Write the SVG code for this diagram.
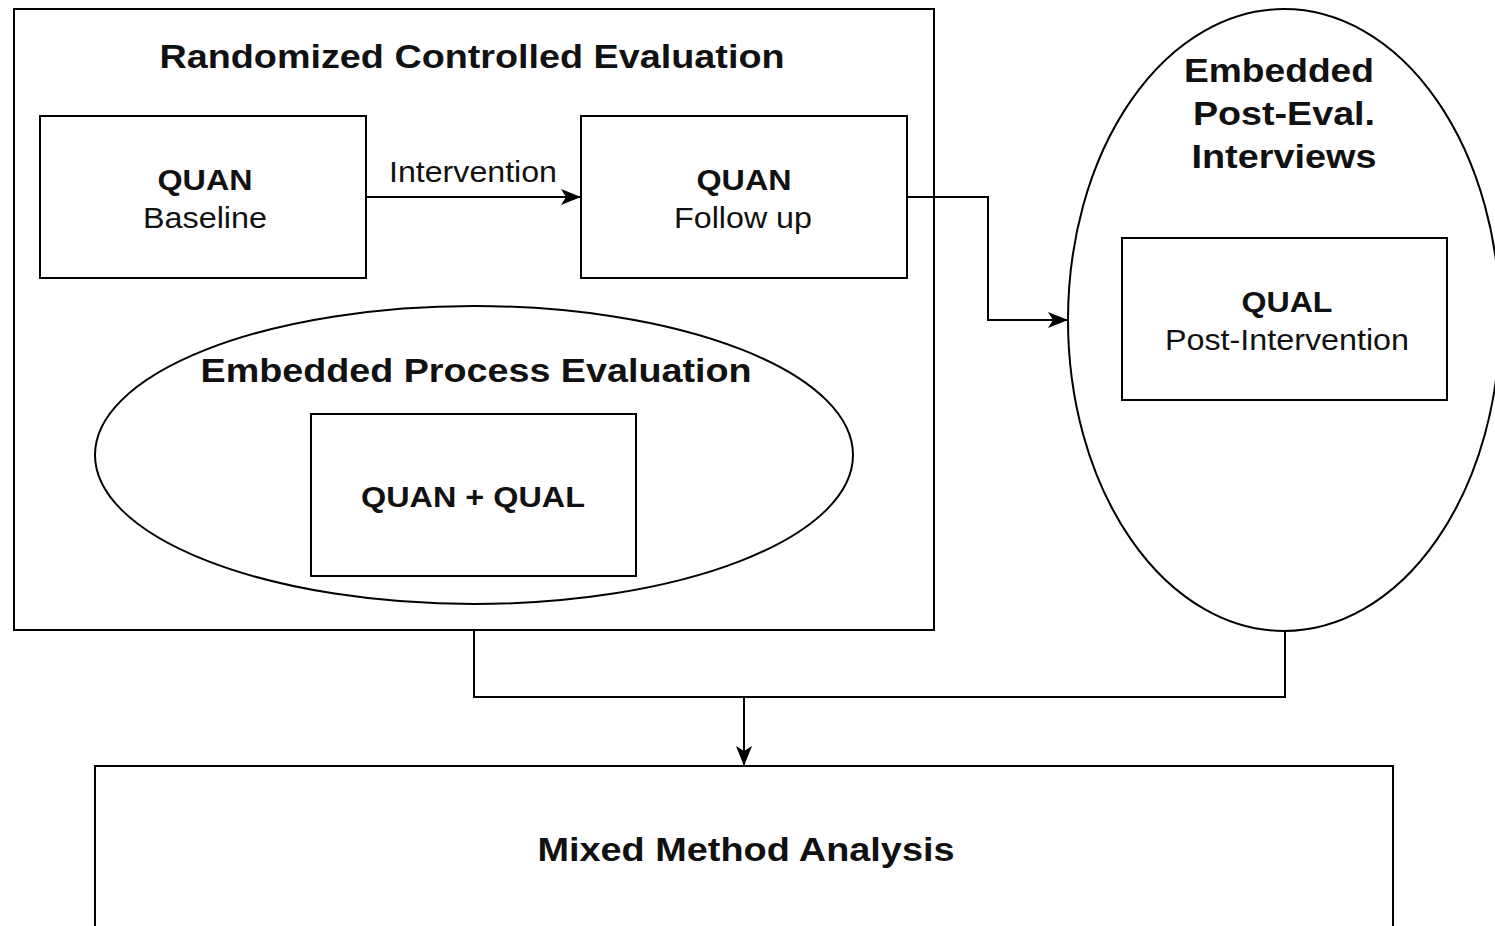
<svg xmlns="http://www.w3.org/2000/svg" width="1495" height="926" viewBox="0 0 1495 926">
  <style>
    .box { fill: #ffffff; stroke: #000000; stroke-width: 2; }
    .shape { fill: none; stroke: #000000; stroke-width: 2; }
    .edge { fill: none; stroke: #000000; stroke-width: 2; }
    text { font-family: "Liberation Sans", Arial, Helvetica, sans-serif; fill: #111111; text-anchor: middle; }
    .title { font-size: 33px; font-weight: bold; }
    .head { font-size: 29px; font-weight: bold; }
    .sub { font-size: 29px; }
  </style>
  <defs>
    <marker id="arrow" viewBox="0 0 20 16" refX="19" refY="8" markerWidth="20" markerHeight="16" markerUnits="userSpaceOnUse" orient="auto">
      <path d="M0,0 L20,8 L0,16 L5,8 Z" fill="#000000"/>
    </marker>
  </defs>
  <rect width="1495" height="926" fill="#ffffff"/>

  <!-- Randomized controlled evaluation container -->
  <g id="rce">
    <rect class="box" x="14" y="9" width="920" height="621"/>
    <text class="title" x="472" y="68" textLength="625" lengthAdjust="spacingAndGlyphs">Randomized Controlled Evaluation</text>
  </g>

  <g id="quan-baseline">
    <rect class="box" x="40" y="116" width="326" height="162"/>
    <text class="head" x="205" y="190" textLength="95" lengthAdjust="spacingAndGlyphs">QUAN</text>
    <text class="sub" x="205" y="228" textLength="124" lengthAdjust="spacingAndGlyphs">Baseline</text>
  </g>

  <g id="quan-followup">
    <rect class="box" x="581" y="116" width="326" height="162"/>
    <text class="head" x="744" y="190" textLength="95" lengthAdjust="spacingAndGlyphs">QUAN</text>
    <text class="sub" x="743" y="228" textLength="138" lengthAdjust="spacingAndGlyphs">Follow up</text>
  </g>

  <g id="process-evaluation">
    <ellipse class="shape" cx="474" cy="455" rx="379" ry="149"/>
    <text class="title" x="476" y="382" textLength="551" lengthAdjust="spacingAndGlyphs">Embedded Process Evaluation</text>
  </g>

  <g id="quan-qual">
    <rect class="box" x="311" y="414" width="325" height="162"/>
    <text class="head" x="473" y="507" textLength="224" lengthAdjust="spacingAndGlyphs">QUAN + QUAL</text>
  </g>

  <g id="post-eval-interviews">
    <ellipse class="shape" cx="1284" cy="320" rx="216" ry="311"/>
    <text class="title" x="1279" y="82" textLength="190" lengthAdjust="spacingAndGlyphs">Embedded</text>
    <text class="title" x="1284" y="125" textLength="182" lengthAdjust="spacingAndGlyphs">Post-Eval.</text>
    <text class="title" x="1284" y="168" textLength="185" lengthAdjust="spacingAndGlyphs">Interviews</text>
  </g>

  <g id="qual-post">
    <rect class="box" x="1122" y="238" width="325" height="162"/>
    <text class="head" x="1287" y="312" textLength="91" lengthAdjust="spacingAndGlyphs">QUAL</text>
    <text class="sub" x="1287" y="350" textLength="244" lengthAdjust="spacingAndGlyphs">Post-Intervention</text>
  </g>

  <g id="mixed-analysis">
    <rect class="box" x="95" y="766" width="1298" height="180"/>
    <text class="title" x="746" y="861" textLength="417" lengthAdjust="spacingAndGlyphs">Mixed Method Analysis</text>
  </g>

  <!-- Connectors -->
  <g id="connectors">
    <path class="edge" d="M366,197 L580,197" marker-end="url(#arrow)"/>
    <text class="sub" x="473" y="182" textLength="168" lengthAdjust="spacingAndGlyphs">Intervention</text>
    <path class="edge" d="M907,197 L988,197 L988,320 L1067,320" marker-end="url(#arrow)"/>
    <path class="edge" d="M474,630 L474,697 L1285,697 L1285,631"/>
    <path class="edge" d="M744,697 L744,765" marker-end="url(#arrow)"/>
  </g>
</svg>
